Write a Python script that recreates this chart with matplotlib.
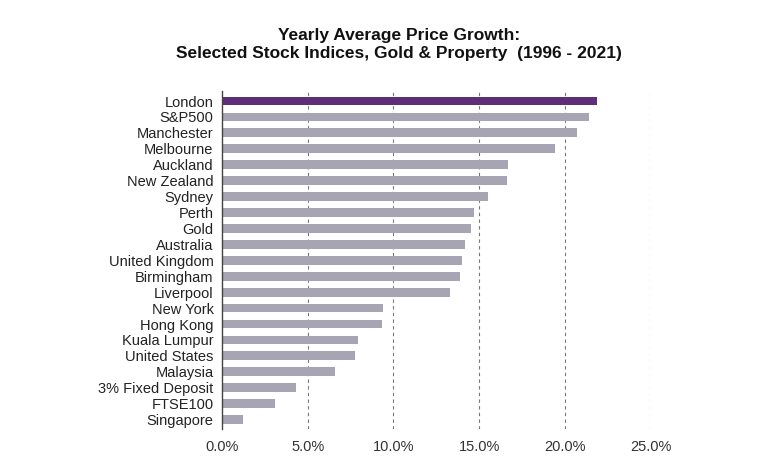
import matplotlib
matplotlib.use("Agg")
import matplotlib.pyplot as plt
from matplotlib.ticker import FuncFormatter

labels = ["London", "S&P500", "Manchester", "Melbourne", "Auckland", "New Zealand",
          "Sydney", "Perth", "Gold", "Australia", "United Kingdom", "Birmingham",
          "Liverpool", "New York", "Hong Kong", "Kuala Lumpur", "United States",
          "Malaysia", "3% Fixed Deposit", "FTSE100", "Singapore"]
growth = [21.9, 21.4, 20.7, 19.45, 16.7, 16.6, 15.5, 14.7, 14.5, 14.2, 14.0, 13.9,
          13.3, 9.4, 9.35, 7.95, 7.75, 6.6, 4.3, 3.1, 1.25]
ticks = [0, 5, 10, 15, 20, 25]

plt.rcParams["font.family"] = ["Liberation Sans", "DejaVu Sans"]

fig = plt.figure(figsize=(7.68, 4.69), dpi=100)
ax = fig.add_axes([0.289, 0.085, 0.558, 0.72])

colors = ["#5e2f78"] + ["#a7a4b3"] * (len(labels) - 1)
ypos = list(range(len(labels)))
ax.barh(ypos, growth, height=0.55, color=colors, zorder=2)
ax.set_yticks(ypos)
ax.set_yticklabels(labels, fontsize=10.5, color="#222222")
ax.invert_yaxis()
ax.set_ylim(len(labels) - 0.4, -0.6)

ax.set_xlim(0, 25)
ax.set_xticks(ticks)
ax.xaxis.set_major_formatter(FuncFormatter(lambda v, _: f"{v:.1f}%"))
ax.tick_params(axis="x", length=0, labelsize=10.5, colors="#333333", pad=8)
ax.tick_params(axis="y", length=0, pad=6)
for t in ticks[1:]:
    ax.axvline(t, color="#777777", linestyle=(0, (3, 3)), linewidth=0.8, zorder=1)

for side in ("top", "right", "bottom"):
    ax.spines[side].set_visible(False)
ax.spines["left"].set_color("#444444")
ax.spines["left"].set_linewidth(1.0)

fig.text(0.52, 0.905, "Yearly Average Price Growth:\nSelected Stock Indices, Gold & Property  (1996 - 2021)",
         ha="center", va="center", fontsize=12.5, fontweight="bold", color="#111111",
         linespacing=1.3)

fig.savefig("out.png", dpi=100)
